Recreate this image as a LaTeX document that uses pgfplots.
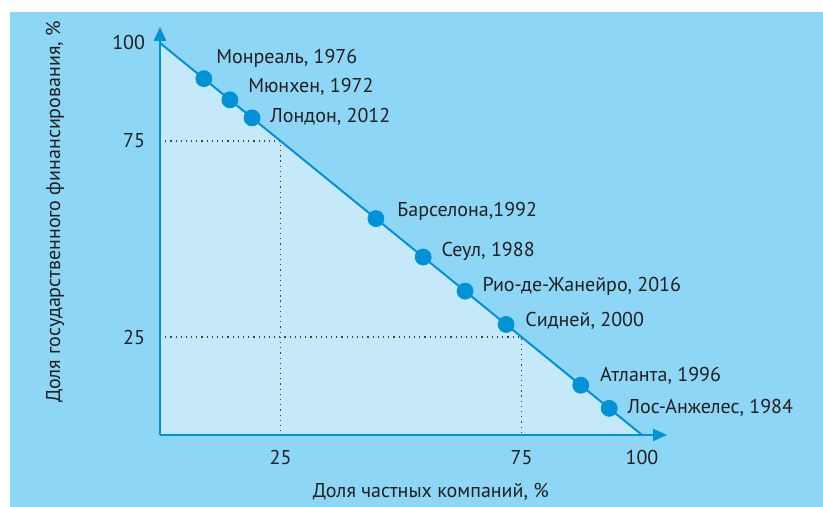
\documentclass[border=0pt]{standalone}
\usepackage{fontspec}
\setmainfont{PT Sans}
\usepackage{pgfplots}
\pgfplotsset{compat=1.18}
\usetikzlibrary{arrows.meta}

\definecolor{bgblue}{HTML}{8DD6F6}
\definecolor{fillblue}{HTML}{C6E9F9}
\definecolor{lineblue}{HTML}{0092D6}
\definecolor{txt}{HTML}{231F20}

\begin{document}
\begin{tikzpicture}[font=\fontsize{10bp}{12bp}\selectfont, text=txt]
  \fill[bgblue] (-75bp,-36bp) rectangle (331.5bp,211.5bp);
  \useasboundingbox (-80bp,-36bp) rectangle (331.5bp,217.5bp);
  \begin{axis}[
    scale only axis,
    width=241bp, height=196bp,
    xmin=0, xmax=100, ymin=0, ymax=100,
    axis line style={draw=none},
    clip=false,
    xtick={25,75,100}, ytick={25,75,100},
    major tick length=0pt,
    /pgf/number format/assume math mode=true,
    xticklabel style={yshift=-4bp},
    yticklabel style={xshift=-4bp},
    xlabel={Доля частных компаний, \%},
    ylabel={Доля государственного финансирования, \%},
    xlabel style={at={(rel axis cs:0.562,0)}, anchor=center, yshift=-28.5bp},
    ylabel style={at={(rel axis cs:-0.2178,0.569)}, anchor=center},
  ]
    % light triangle under the line
    \addplot[fill=fillblue, draw=none] coordinates {(0,0) (0,100) (100,0) (0,0)};
    % dotted guides
    \addplot[dotted, txt!85, line width=0.6bp] coordinates {(0,75) (25,75) (25,0)};
    \addplot[dotted, txt!85, line width=0.6bp] coordinates {(0,25) (75,25) (75,0)};
    % axes with arrows
    \draw[lineblue, line width=1bp, -{Triangle[length=7bp,width=6bp]}] (axis cs:0,0) -- (axis cs:0,104.1);
    \draw[lineblue, line width=1bp, -{Triangle[length=7bp,width=6bp]}] (axis cs:0,0) -- (axis cs:105.2,0);
    % line x + y = 100
    \addplot[lineblue, line width=1bp] coordinates {(0,100) (100,0)};
    % cities
    \addplot[only marks, mark=*, mark size=4bp, lineblue, mark options={draw=none, fill=lineblue}] coordinates {
      (9.1,90.9) (14.5,85.5) (19.1,80.9) (44.8,55.2) (54.6,45.4)
      (63.3,36.7) (71.8,28.2) (87.3,12.7) (93.2,6.8)
    };
    \node[anchor=west, inner sep=0pt] at (axis cs:9.1,90.9) [xshift=6bp, yshift=10bp] {Монреаль, 1976};
    \node[anchor=west, inner sep=0pt] at (axis cs:14.5,85.5) [xshift=9bp, yshift=6.5bp] {Мюнхен, 1972};
    \node[anchor=west, inner sep=0pt] at (axis cs:19.1,80.9) [xshift=9bp, yshift=0.5bp] {Лондон, 2012};
    \node[anchor=west, inner sep=0pt] at (axis cs:44.8,55.2) [xshift=10.5bp, yshift=3.5bp] {Барселона,1992};
    \node[anchor=west, inner sep=0pt] at (axis cs:54.6,45.4) [xshift=9bp, yshift=3bp] {Сеул, 1988};
    \node[anchor=west, inner sep=0pt] at (axis cs:63.3,36.7) [xshift=8.5bp, yshift=2.5bp] {Рио-де-Жанейро, 2016};
    \node[anchor=west, inner sep=0pt] at (axis cs:71.8,28.2) [xshift=9.5bp, yshift=2bp] {Сидней, 2000};
    \node[anchor=west, inner sep=0pt] at (axis cs:87.3,12.7) [xshift=9.5bp, yshift=4.5bp] {Атланта, 1996};
    \node[anchor=west, inner sep=0pt] at (axis cs:93.2,6.8) [xshift=9bp, yshift=0bp] {Лос-Анжелес, 1984};
  \end{axis}
\end{tikzpicture}
\end{document}
